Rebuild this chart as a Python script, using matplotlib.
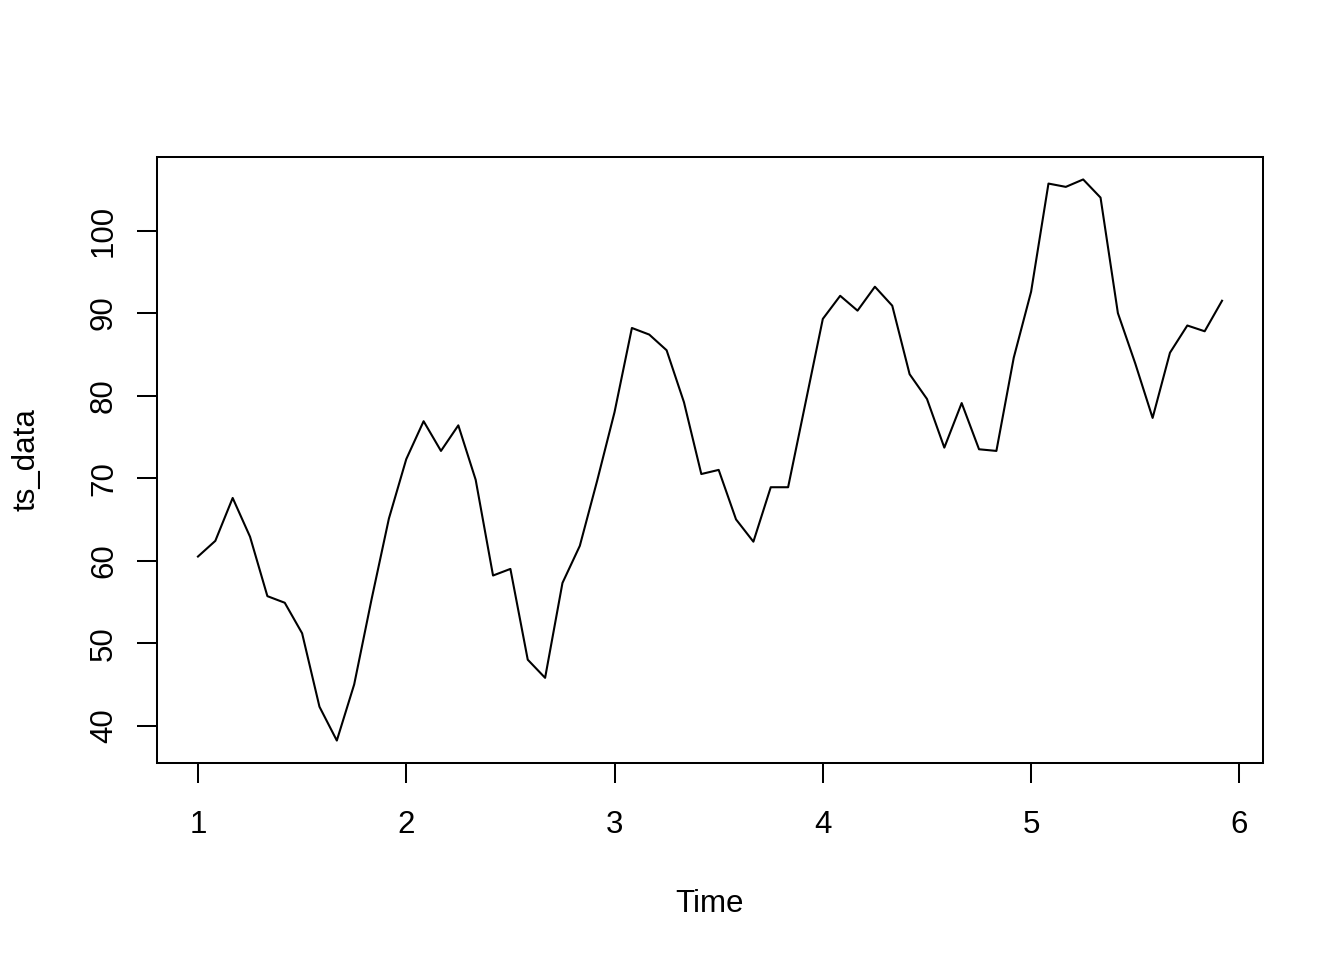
'''
Monthly time series, R-style base plot
'''

import numpy as np
import matplotlib.pyplot as plt

# monthly values, 5 years (start = 1, frequency = 12)
start = 1
freq = 12
ts_data = [60.5, 62.4, 67.6, 62.9, 55.7, 54.9, 51.2, 42.3, 38.2, 45.0, 55.3, 65.1,
           72.3, 76.9, 73.3, 76.4, 69.8, 58.2, 59.0, 48.0, 45.8, 57.3, 61.8, 69.7,
           78.0, 88.2, 87.4, 85.5, 79.2, 70.5, 71.0, 65.0, 62.3, 68.9, 68.9, 79.1,
           89.3, 92.1, 90.3, 93.2, 90.9, 82.6, 79.6, 73.7, 79.1, 73.5, 73.3, 84.6,
           92.6, 105.7, 105.3, 106.2, 104.0, 90.0, 83.9, 77.3, 85.2, 88.5, 87.8, 91.5]
x_ticks = [1, 2, 3, 4, 5, 6]
y_ticks = [40, 50, 60, 70, 80, 90, 100]

plt.rcParams['font.family'] = ['Liberation Sans', 'DejaVu Sans']

# time index of the series
t = start + np.arange(len(ts_data)) / freq

fig = plt.figure(figsize=(13.44, 9.6), dpi=100)
ax = fig.add_axes([157 / 1344, 1 - 763 / 960, (1263 - 157) / 1344, (763 - 157) / 960])

ax.plot(t, ts_data, color='black', linewidth=1.5)
ax.margins(x=0.04, y=0.04)

ax.set_xticks(x_ticks)
ax.set_yticks(y_ticks)
ax.set_yticklabels([str(v) for v in y_ticks], rotation=90, va='center')

for side in ax.spines.values():
    side.set_linewidth(1.45)
ax.tick_params(direction='out', length=14.4, width=1.45, labelsize=22.5)
ax.tick_params(axis='x', pad=19.5)
ax.tick_params(axis='y', pad=13)

ax.set_xlabel('Time', fontsize=22.5, labelpad=35)
ax.set_ylabel('ts_data', fontsize=22.5, labelpad=34)

fig.savefig('out.png', dpi=100)
